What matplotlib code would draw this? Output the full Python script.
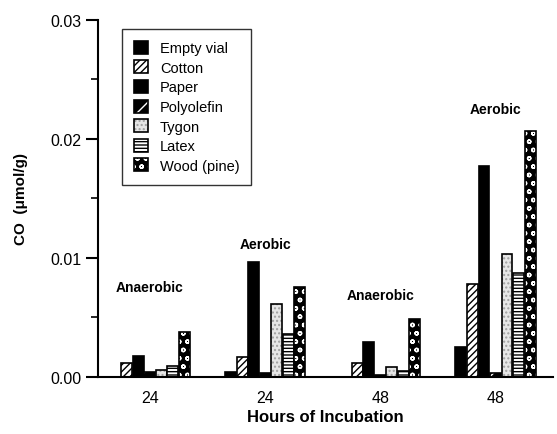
import matplotlib
matplotlib.use("Agg")
import matplotlib.pyplot as plt
import numpy as np
from matplotlib.patches import Patch

plt.rcParams.update({
    "font.family": ["Liberation Sans", "DejaVu Sans"],
    "hatch.linewidth": 1.0,
})

# data (CO, umol/g)
groups = ["24", "24", "48", "48"]
conditions = ["Anaerobic", "Aerobic", "Anaerobic", "Aerobic"]
materials = ["Empty vial", "Cotton", "Paper", "Polyolefin", "Tygon", "Latex", "Wood (pine)"]
empty_vial = [0.0, 0.0004, 0.0, 0.0025]
cotton = [0.0012, 0.0017, 0.0012, 0.0078]
paper = [0.0018, 0.0097, 0.0029, 0.0177]
polyolefin = [0.0004, 0.0003, 0.0002, 0.0003]
tygon = [0.0006, 0.0061, 0.0008, 0.0103]
latex = [0.0009, 0.0036, 0.0005, 0.0087]
wood = [0.0038, 0.0076, 0.0049, 0.0207]
series = [empty_vial, cotton, paper, polyolefin, tygon, latex, wood]

# layout / style
label_y = [0.0076, 0.0112, 0.0069, 0.0225]
# (facecolor, hatch, hatch colour)
styles = [
    ("black", None, None),
    ("white", "/////", "black"),
    ("black", None, None),
    ("black", "//", "white"),
    ("#e6e6e6", "....", "#a0a0a0"),
    ("white", "-----", "black"),
    ("black", "oo", "white"),
]

fig = plt.figure(figsize=(5.57, 4.35), dpi=100)
ax = fig.add_axes([0.176, 0.131, 0.817, 0.821])

x = np.arange(len(groups))
step = 0.1
width = 0.095
handles = []
for i, (vals, (fc, hatch, hc)) in enumerate(zip(series, styles)):
    pos = x + (i - 3) * step
    if hatch:
        ax.bar(pos, vals, width, color=fc, edgecolor=hc, hatch=hatch, linewidth=0)
        ax.bar(pos, vals, width, fill=False, edgecolor="black", linewidth=1.2)
        h = (Patch(facecolor=fc, edgecolor=hc, hatch=hatch, linewidth=0),
             Patch(fill=False, edgecolor="black", linewidth=1.2))
    else:
        ax.bar(pos, vals, width, color=fc, edgecolor="black", linewidth=1.2)
        h = Patch(facecolor=fc, edgecolor="black", linewidth=1.2)
    handles.append(h)

for xi, cond, yl in zip(x, conditions, label_y):
    ax.text(xi, yl, cond, ha="center", va="center", fontsize=10, fontweight="bold")

ax.set_xlim(-0.45, 3.5)
ax.set_ylim(0, 0.03)
ax.set_xticks(x)
ax.set_xticklabels(groups, fontsize=11.5)
ax.tick_params(axis="x", length=0, pad=9)
ax.set_yticks([0.0, 0.01, 0.02, 0.03])
ax.set_yticklabels(["0.00", "0.01", "0.02", "0.03"], fontsize=11.5)
ax.set_yticks([0.005, 0.015, 0.025], minor=True)
ax.tick_params(axis="y", which="major", length=9, width=1.5, direction="out", pad=3)
ax.tick_params(axis="y", which="minor", length=5, width=1.2, direction="out")
ax.spines["top"].set_visible(False)
ax.spines["right"].set_visible(False)
ax.spines["left"].set_linewidth(1.5)
ax.spines["bottom"].set_linewidth(1.5)

ax.set_xlabel("Hours of Incubation", fontsize=12, fontweight="bold", labelpad=3)
ax.set_ylabel("CO  (\u03bcmol/g)", fontsize=11, fontweight="bold", labelpad=16)

leg = ax.legend(handles, materials, loc="upper left",
                bbox_to_anchor=(122 / 557, 1 - 30 / 435), bbox_transform=fig.transFigure,
                borderaxespad=0, fontsize=10.5, frameon=True, fancybox=False,
                handlelength=1.0, handleheight=1.0, labelspacing=0.35,
                handletextpad=0.8, borderpad=0.8)
leg.get_frame().set_edgecolor("black")
leg.get_frame().set_linewidth(1.0)

fig.savefig("out.png", dpi=100)
